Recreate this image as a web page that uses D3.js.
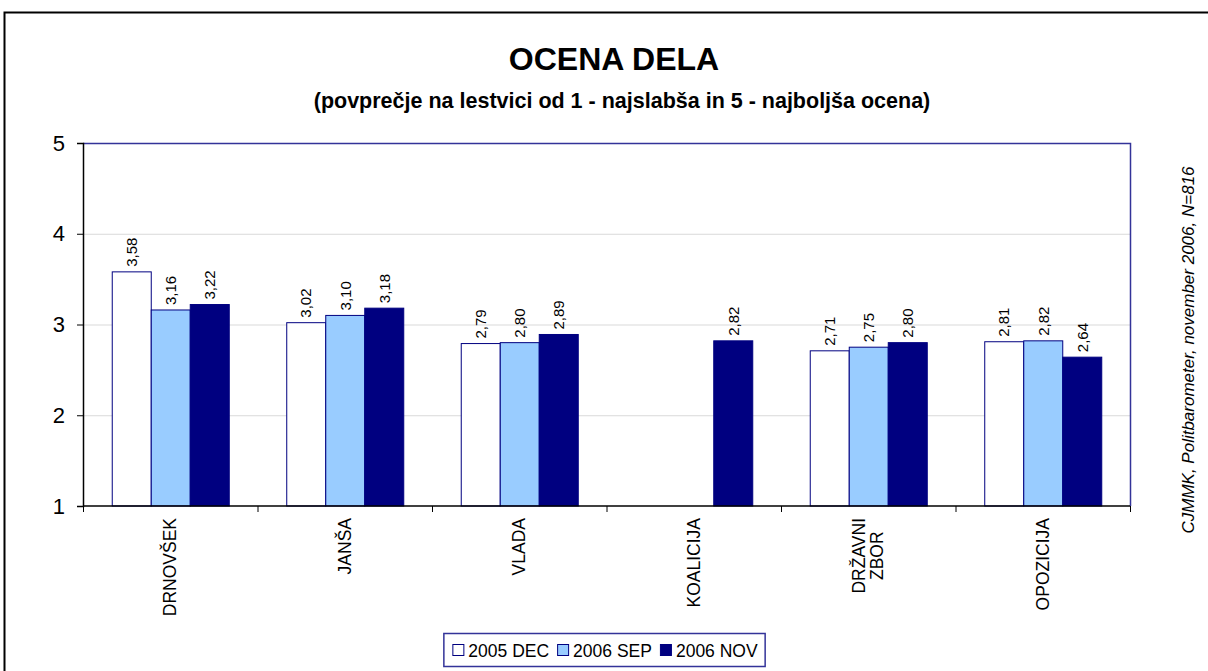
<!DOCTYPE html>
<html>
<head>
<meta charset="utf-8">
<script src="https://cdn.jsdelivr.net/npm/d3@7"></script>
<style>
  body { margin: 0; background: #fff; }
  svg { display: block; font-family: Arial, "Liberation Sans", sans-serif; }
</style>
</head>
<body>
<svg id="chart"></svg>
<script>
const categories = ['DRNOVŠEK', 'JANŠA', 'VLADA', 'KOALICIJA', 'DRŽAVNI ZBOR', 'OPOZICIJA'];
const series = ['2005 DEC', '2006 SEP', '2006 NOV'];
const dec2005 = [3.58, 3.02, 2.79, null, 2.71, 2.81];
const sep2006 = [3.16, 3.10, 2.80, null, 2.75, 2.82];
const nov2006 = [3.22, 3.18, 2.89, 2.82, 2.80, 2.64];
const yTicks = [1, 2, 3, 4, 5];

const values = [dec2005, sep2006, nov2006];
const fills = ['#ffffff', '#99ccff', '#000080'];

const width = 1208, height = 671;
const margin = { top: 143, right: 78, bottom: 165, left: 83 };

let svg = d3.select('#chart').attr('width', width).attr('height', height);

// outer frame (right and bottom edges fall outside the picture)
svg.append('rect')
  .attr('x', 4.5).attr('y', 12.5)
  .attr('width', width + 10).attr('height', height + 10)
  .attr('fill', 'none').attr('stroke', '#000').attr('stroke-width', 2);

svg.append('text')
  .attr('x', 614).attr('y', 70)
  .attr('text-anchor', 'middle')
  .style('font-size', '32px').style('font-weight', 'bold')
  .text('OCENA DELA');

svg.append('text')
  .attr('x', 622).attr('y', 108)
  .attr('text-anchor', 'middle')
  .style('font-size', '21.5px').style('font-weight', 'bold')
  .text('(povprečje na lestvici od 1 - najslabša in 5 - najboljša ocena)');

let x0 = d3.scaleBand()
  .domain(categories)
  .range([margin.left, width - margin.right])
  .padding(0);

let x1 = d3.scaleBand()
  .domain(series)
  .range([0, x0.bandwidth()])
  .paddingInner(0)
  .paddingOuter(0.737);

let y = d3.scaleLinear()
  .domain([1, 5])
  .range([height - margin.bottom, margin.top]);

let plotB = height - margin.bottom;

// gridlines
svg.append('g')
  .selectAll('line')
  .data(yTicks.filter(t => t > 1 && t < 5))
  .enter()
  .append('line')
  .attr('x1', margin.left).attr('x2', width - margin.right)
  .attr('y1', d => y(d) + 0.5).attr('y2', d => y(d) + 0.5)
  .attr('stroke', '#d9d9d9').attr('stroke-width', 1);

// plot area border: top and right
svg.append('path')
  .attr('d', `M${margin.left},${margin.top + 0.5}H${width - margin.right + 0.5}V${plotB}`)
  .attr('fill', 'none').attr('stroke', '#333399').attr('stroke-width', 1.5);

// bars
let group = svg.append('g')
  .selectAll('g')
  .data(categories)
  .enter()
  .append('g')
  .attr('transform', d => `translate(${x0(d)},0)`);

let cells = group.selectAll('g')
  .data((c, i) => series.map((s, j) => ({ s, j, v: values[j][i] })).filter(d => d.v != null))
  .enter()
  .append('g');

cells.append('rect')
  .attr('x', d => x1(d.s) + 0.5)
  .attr('y', d => y(d.v))
  .attr('width', x1.bandwidth())
  .attr('height', d => y(1) - y(d.v))
  .attr('fill', d => fills[d.j])
  .attr('stroke', '#000080')
  .attr('stroke-width', 1);

cells.append('text')
  .attr('transform', d => `translate(${x1(d.s) + x1.bandwidth() / 2 + 0.5},${y(d.v) - 5}) rotate(-90)`)
  .attr('dy', '0.35em')
  .style('font-size', '15px')
  .text(d => d3.format('.2f')(d.v).replace('.', ','));

// y axis
let yAxis = svg.append('g')
  .attr('transform', `translate(${margin.left},0)`)
  .call(d3.axisLeft(y).tickValues(yTicks).tickSize(6).tickPadding(12).tickFormat(d3.format('d')));
yAxis.select('.domain').attr('stroke', '#000').attr('stroke-width', 1.5);
yAxis.selectAll('.tick line').attr('stroke', '#000');
yAxis.selectAll('.tick text').style('font-size', '22px').attr('fill', '#000');
yAxis.attr('font-family', null);

// x axis line and boundary ticks
svg.append('line')
  .attr('x1', margin.left).attr('x2', width - margin.right)
  .attr('y1', plotB).attr('y2', plotB)
  .attr('stroke', '#000').attr('stroke-width', 1.5);

let bounds = categories.map(c => x0(c)).concat([width - margin.right]);
svg.append('g')
  .selectAll('line')
  .data(bounds)
  .enter()
  .append('line')
  .attr('x1', d => d + 0.5).attr('x2', d => d + 0.5)
  .attr('y1', plotB).attr('y2', plotB + 6)
  .attr('stroke', '#000').attr('stroke-width', 1);

// category labels (multi-line labels are centred line by line)
let catLabel = svg.append('g')
  .selectAll('text')
  .data(categories)
  .enter()
  .append('text')
  .attr('transform', d => `translate(${x0(d) + x0.bandwidth() / 2},${plotB + 12}) rotate(-90)`)
  .attr('text-anchor', 'middle')
  .style('font-size', '17.5px');

catLabel.each(function (d) {
  let lines = d.split(' ');
  let el = d3.select(this);
  let lh = 18;
  let spans = lines.map((ln, k) =>
    el.append('tspan')
      .attr('y', (k - (lines.length - 1) / 2) * lh)
      .attr('dy', '0.35em')
      .text(ln)
  );
  let maxW = d3.max(spans, s => s.node().getComputedTextLength());
  spans.forEach(s => s.attr('x', -maxW / 2));
});

// legend
let legend = svg.append('g');
let legendBox = legend.append('rect')
  .attr('y', 633.5).attr('height', 33)
  .attr('fill', '#fff').attr('stroke', '#333399').attr('stroke-width', 1.5);

let lx = 0;
let items = [];
series.forEach((s, j) => {
  let it = legend.append('g');
  it.append('rect')
    .attr('x', lx + 0.5).attr('y', 644.5)
    .attr('width', 11).attr('height', 11)
    .attr('fill', fills[j]).attr('stroke', '#000080');
  let t = it.append('text')
    .attr('x', lx + 16).attr('y', 656.5)
    .style('font-size', '17.5px')
    .text(s);
  lx += 16 + t.node().getComputedTextLength() + 8;
  items.push(it);
});
let legendW = lx - 8;
let legendX = 605 - legendW / 2;
items.forEach(it => it.attr('transform', `translate(${legendX},0)`));
legendBox.attr('x', legendX - 8.5).attr('width', legendW + 16);

// source note
svg.append('text')
  .attr('transform', 'translate(1194,350) rotate(-90)')
  .attr('text-anchor', 'middle')
  .style('font-size', '17px').style('font-style', 'italic')
  .text('CJMMK, Politbarometer, november 2006, N=816');
</script>
</body>
</html>
